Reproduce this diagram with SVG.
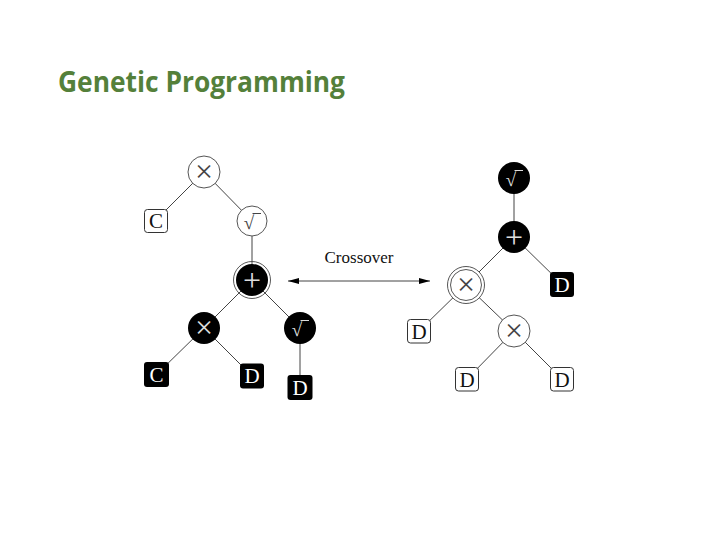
<svg xmlns="http://www.w3.org/2000/svg" width="720" height="540" viewBox="0 0 720 540">
<defs>
<marker id="ah" viewBox="0 0 11 6" refX="11" refY="3" markerWidth="11" markerHeight="6" markerUnits="userSpaceOnUse" orient="auto-start-reverse">
<path d="M0,0 L11,3 L0,6 Z" fill="#000"/>
</marker>
</defs>
<style>
.edge{stroke:#444;stroke-width:1;fill:none}
.wc{fill:#fff;stroke:#555;stroke-width:1}
.bc{fill:#000;stroke:none}
.ring{fill:none;stroke:#444;stroke-width:0.9}
.wb{fill:#fff;stroke:#333;stroke-width:1}
.bb{fill:#000;stroke:none}
.sym{font-family:"Liberation Serif","DejaVu Serif",serif;font-size:32px;text-anchor:middle}
.rt{font-family:"Liberation Serif","DejaVu Serif",serif;font-size:19px;text-anchor:middle}
.lt{font-family:"Liberation Serif","DejaVu Serif",serif;font-size:21px;text-anchor:middle}
.dk{fill:#444}
.lg{fill:#ddd}
</style>
<rect width="720" height="540" fill="#fff"/>
<text x="58" y="92" font-family="'Open Sans','Noto Sans',sans-serif" font-weight="bold" font-size="28" fill="#54803A" textLength="287" lengthAdjust="spacingAndGlyphs">Genetic Programming</text>

<g id="connectors">
<line class="edge" x1="204" y1="172" x2="156" y2="220"/>
<line class="edge" x1="204" y1="172" x2="252" y2="221"/>
<line class="edge" x1="252" y1="221" x2="252" y2="280"/>
<line class="edge" x1="252" y1="280" x2="204" y2="328"/>
<line class="edge" x1="252" y1="280" x2="300" y2="328"/>
<line class="edge" x1="204" y1="328" x2="156" y2="375"/>
<line class="edge" x1="204" y1="328" x2="252" y2="376"/>
<line class="edge" x1="300" y1="328" x2="300" y2="388"/>
<line class="edge" x1="514" y1="178" x2="514" y2="237"/>
<line class="edge" x1="514" y1="237" x2="562" y2="284"/>
<line class="edge" x1="514" y1="237" x2="466" y2="285"/>
<line class="edge" x1="466" y1="285" x2="419" y2="331"/>
<line class="edge" x1="466" y1="285" x2="514" y2="331"/>
<line class="edge" x1="514" y1="331" x2="467" y2="379"/>
<line class="edge" x1="514" y1="331" x2="562" y2="379"/>
<line class="edge" x1="288" y1="281" x2="430" y2="281" marker-start="url(#ah)" marker-end="url(#ah)"/>
<text x="359" y="263" font-family="'Liberation Serif','DejaVu Serif',serif" font-size="17" text-anchor="middle" fill="#111">Crossover</text>
</g>

<g id="L_times">
<circle class="wc" cx="204" cy="172" r="16"/>
<text class="sym dk" x="204" y="182">×</text>
</g>
<g id="L_C1">
<rect class="wb" x="144.5" y="209.5" width="23" height="23" rx="3"/>
<text class="lt" x="156" y="228" fill="#111">C</text>
</g>
<g id="L_sqrt">
<circle class="wc" cx="252" cy="221" r="15"/>
<text class="rt dk" x="249" y="229">√</text>
<line stroke="#444" x1="252.5" y1="213.5" x2="261" y2="213.5"/>
</g>
<g id="L_plus">
<circle class="ring" cx="252" cy="280" r="18.5"/>
<circle class="bc" cx="252" cy="280" r="16"/>
<text class="sym lg" x="252" y="291">+</text>
</g>
<g id="L_times2">
<circle class="bc" cx="204" cy="328" r="16"/>
<text class="sym lg" x="204" y="338">×</text>
</g>
<g id="L_sqrt2">
<circle class="bc" cx="300" cy="328" r="16"/>
<text class="rt lg" x="297" y="336">√</text>
<line stroke="#ddd" x1="300.5" y1="320.5" x2="309" y2="320.5"/>
</g>
<g id="L_C2">
<rect class="bb" x="144" y="362" width="25" height="25" rx="3"/>
<text class="lt" x="156.5" y="382" fill="#fff">C</text>
</g>
<g id="L_D1">
<rect class="bb" x="240" y="363.5" width="24" height="25" rx="3"/>
<text class="lt" x="252" y="383" fill="#fff">D</text>
</g>
<g id="L_D2">
<rect class="bb" x="287.5" y="375" width="25" height="25" rx="3"/>
<text class="lt" x="300" y="395" fill="#fff">D</text>
</g>

<g id="R_sqrt">
<circle class="bc" cx="514" cy="178" r="16"/>
<text class="rt lg" x="511" y="186">√</text>
<line stroke="#ddd" x1="514.5" y1="170.5" x2="523" y2="170.5"/>
</g>
<g id="R_plus">
<circle class="bc" cx="514" cy="237" r="16"/>
<text class="sym lg" x="514" y="248">+</text>
</g>
<g id="R_D1">
<rect class="bb" x="550" y="272" width="24" height="25" rx="3"/>
<text class="lt" x="562" y="292" fill="#fff">D</text>
</g>
<g id="R_times">
<circle class="wc" cx="466" cy="285" r="18.5"/>
<circle class="ring" cx="466" cy="285" r="15.5"/>
<text class="sym dk" x="466" y="295">×</text>
</g>
<g id="R_D2">
<rect class="wb" x="407.5" y="319.5" width="23" height="23.5" rx="3"/>
<text class="lt" x="419" y="339" fill="#111">D</text>
</g>
<g id="R_times2">
<circle class="wc" cx="514" cy="331" r="16"/>
<text class="sym dk" x="514" y="341">×</text>
</g>
<g id="R_D3">
<rect class="wb" x="455.5" y="367.5" width="23" height="23.5" rx="3"/>
<text class="lt" x="467" y="387" fill="#111">D</text>
</g>
<g id="R_D4">
<rect class="wb" x="550.5" y="367.5" width="23" height="23.5" rx="3"/>
<text class="lt" x="562" y="387" fill="#111">D</text>
</g>
</svg>
